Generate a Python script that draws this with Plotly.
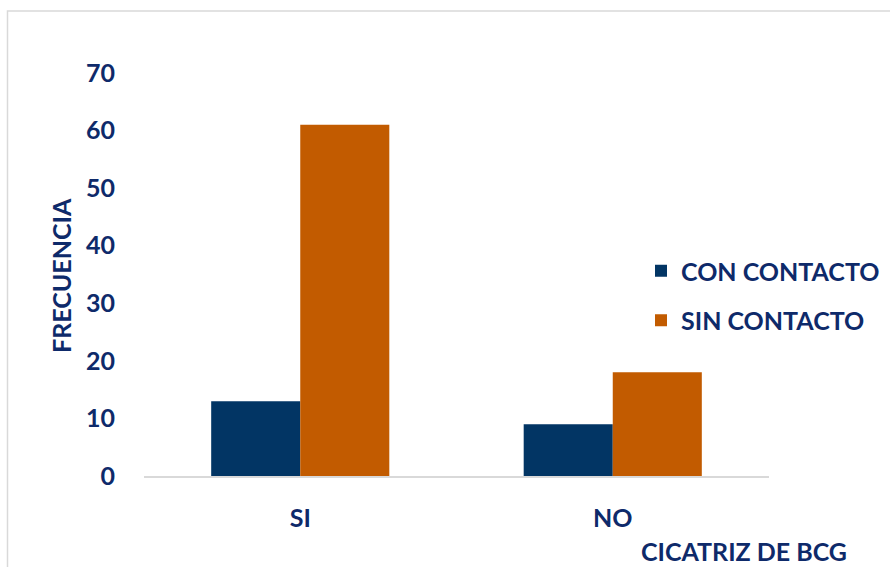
import plotly.graph_objects as go

# Frecuencia por cicatriz de BCG y antecedente de contacto
categorias = ["SI", "NO"]
con_contacto = [13, 9]
sin_contacto = [61, 18]
y_ticks = [0, 10, 20, 30, 40, 50, 60, 70]

NAVY = "#023564"
ORANGE = "#C25B00"
TEXT = "#0E2A6A"
GRID = "#D9D9D9"
FONT = "Lato"

W, H = 890, 567
L, R, T, B = 144, 121, 73, 91
pw, ph = W - L - R, H - T - B

fig = go.Figure()
fig.add_trace(go.Bar(x=categorias, y=con_contacto, name="CON CONTACTO",
                     marker=dict(color=NAVY, line=dict(width=0)), legendgroup="a"))
fig.add_trace(go.Bar(x=categorias, y=sin_contacto, name="SIN CONTACTO",
                     marker=dict(color=ORANGE, line=dict(width=0)), legendgroup="b"))

fig.update_layout(
    width=W, height=H,
    margin=dict(l=L, r=R, t=T, b=B, autoexpand=False),
    paper_bgcolor="white", plot_bgcolor="white",
    barmode="group", bargap=0.43, bargroupgap=0,
    font=dict(family=FONT, color=TEXT, size=25),
    showlegend=True,
    legend=dict(
        x=(641 - L) / pw, y=(H - B - 248) / ph, xanchor="left", yanchor="top",
        bgcolor="rgba(0,0,0,0)", tracegroupgap=14, traceorder="grouped",
        font=dict(family=FONT, size=25, color=TEXT, weight="bold"),
        itemwidth=30,
    ),
    xaxis=dict(
        showline=True, linecolor=GRID, linewidth=2, showgrid=False, zeroline=False,
        ticks="", ticklabelstandoff=19,
        tickfont=dict(family=FONT, size=25, color=TEXT, weight="bold"),
    ),
    yaxis=dict(
        range=[0, 70], tickvals=y_ticks, showgrid=False, zeroline=False, showline=False,
        ticks="", ticklabelstandoff=28,
        tickfont=dict(family=FONT, size=25, color=TEXT, weight="bold"),
    ),
    annotations=[
        dict(text="FRECUENCIA", xref="paper", yref="paper",
             x=(61 - L) / pw, y=(H - B - 276) / ph, xanchor="center", yanchor="middle",
             textangle=-90, showarrow=False,
             font=dict(family=FONT, size=25, color=TEXT, weight="bold")),
        dict(text="CICATRIZ DE BCG", xref="paper", yref="paper",
             x=(744 - L) / pw, y=(H - B - 551) / ph, xanchor="center", yanchor="middle",
             showarrow=False, borderpad=0,
             font=dict(family=FONT, size=25, color=TEXT, weight="bold")),
    ],
    shapes=[
        dict(type="rect", xref="paper", yref="paper", layer="below",
             x0=(7.5 - L) / pw, x1=(W + 20 - L) / pw,
             y0=(H - B - (H + 20)) / ph, y1=(H - B - 11) / ph,
             line=dict(color=GRID, width=1.5), fillcolor="rgba(0,0,0,0)"),
    ],
)

fig.write_html("out.html")
